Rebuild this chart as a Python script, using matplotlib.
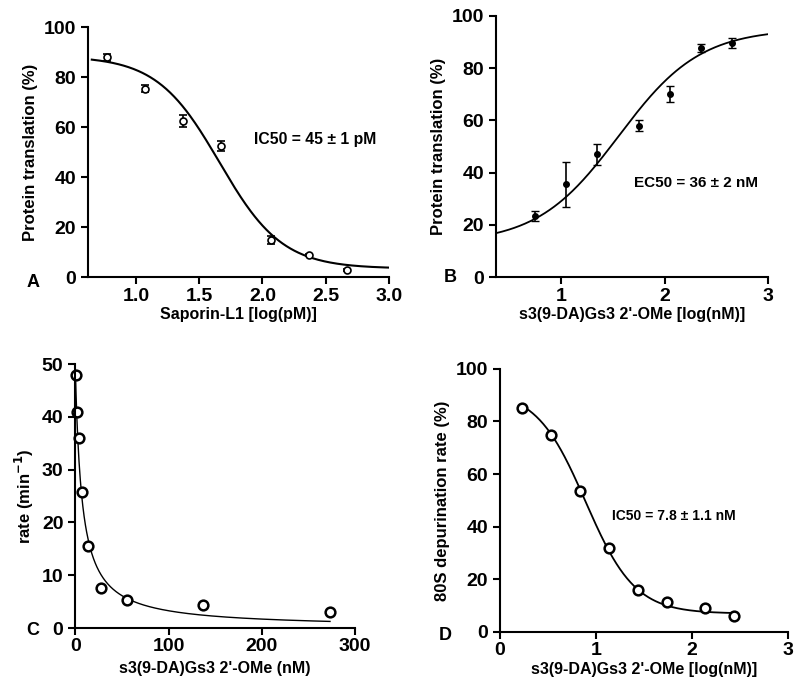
import matplotlib.pyplot as plt
import numpy as np

plt.rcParams['font.family'] = ['Liberation Sans', 'DejaVu Sans']
plt.rcParams['font.weight'] = 'bold'

# panel A: Saporin-L1 translation inhibition
a_x = [0.77, 1.07, 1.37, 1.67, 2.07, 2.37, 2.67]
a_y = [88.0, 75.5, 62.5, 52.5, 15.0, 9.0, 3.0]
a_err = [1.5, 1.5, 2.5, 2.0, 1.5, 0.5, 0.5]
a_fit = dict(top=88.5, bottom=3.5, logc=1.66, hill=1.75)

# panel B: s3(9-DA)Gs3 2'-OMe rescue
b_x = [0.75, 1.05, 1.35, 1.75, 2.05, 2.35, 2.65]
b_y = [23.5, 35.5, 47.0, 58.0, 70.0, 87.5, 89.5]
b_err = [2.0, 8.5, 4.0, 2.0, 3.0, 1.5, 2.0]
b_fit = dict(top=95.0, bottom=13.0, logc=1.556, hill=1.1)

# panel C: rate vs concentration
c_x = [0.7, 2.1, 4.3, 7.5, 14.0, 28.0, 55.0, 137.0, 273.0]
c_y = [48.0, 41.0, 35.9, 25.8, 15.5, 7.5, 5.4, 4.4, 3.0]
c_fit = dict(top=50.0, k=7.0)

# panel D: 80S depurination
d_x = [0.23, 0.53, 0.835, 1.136, 1.435, 1.738, 2.14, 2.44]
d_y = [85.3, 74.7, 53.7, 32.1, 15.9, 11.3, 9.2, 6.1]
d_fit = dict(top=92.0, bottom=7.0, logc=0.892, hill=1.69)

TICK = 14
LABEL = 11.5


def logistic(x, top, bottom, logc, hill):
    return bottom + (top - bottom) / (1 + 10 ** ((x - logc) * hill))


def style(ax):
    for s in ['top', 'right']:
        ax.spines[s].set_visible(False)
    for s in ['left', 'bottom']:
        ax.spines[s].set_linewidth(1.5)
    ax.tick_params(width=1.5, length=5, labelsize=TICK)
    ax.tick_params(axis='x', pad=2.5)
    for lab in ax.get_xticklabels() + ax.get_yticklabels():
        lab.set_fontweight('bold')


fig = plt.figure(figsize=(8, 6.83), dpi=100)

# A
ax = fig.add_axes([0.11, 0.594, 0.376, 0.366])
xs = np.linspace(0.65, 3.0, 300)
ax.plot(xs, logistic(xs, **a_fit), color='black', lw=1.5)
ax.errorbar(a_x, a_y, yerr=a_err, fmt='o', ms=5, mfc='white', mec='black',
            mew=1.2, ecolor='black', elinewidth=1.2, capsize=3)
ax.set_xlim(0.62, 3.0)
ax.set_ylim(0, 100)
ax.set_xticks([1.0, 1.5, 2.0, 2.5, 3.0])
ax.set_xticklabels(['1.0', '1.5', '2.0', '2.5', '3.0'])
ax.set_yticks([0, 20, 40, 60, 80, 100])
ax.set_xlabel('Saporin-L1 [log(pM)]', fontsize=LABEL, fontweight='bold', labelpad=2)
ax.set_ylabel('Protein translation (%)', fontsize=LABEL + 0.5, fontweight='bold')
ax.text(1.93, 55, 'IC50 = 45 ± 1 pM', fontsize=11.3, fontweight='bold', va='center')
style(ax)
fig.text(0.033, 0.587, 'A', fontsize=13, fontweight='bold', va='center')

# B
ax = fig.add_axes([0.62, 0.594, 0.34, 0.383])
xs = np.linspace(0.37, 3.0, 300)
ax.plot(xs, logistic(xs, b_fit['top'], b_fit['bottom'], b_fit['logc'], -b_fit['hill']),
        color='black', lw=1.3)
ax.errorbar(b_x, b_y, yerr=b_err, fmt='o', ms=4, mfc='black', mec='black',
            ecolor='black', elinewidth=1.2, capsize=3)
ax.set_xlim(0.37, 3.0)
ax.set_ylim(0, 100)
ax.set_xticks([1, 2, 3])
ax.set_yticks([0, 20, 40, 60, 80, 100])
ax.set_xlabel("s3(9-DA)Gs3 2'-OMe [log(nM)]", fontsize=LABEL, fontweight='bold', labelpad=2)
ax.set_ylabel('Protein translation (%)', fontsize=LABEL + 0.5, fontweight='bold')
ax.text(1.7, 36, 'EC50 = 36 ± 2 nM', fontsize=11, fontweight='bold', va='center')
style(ax)
fig.text(0.555, 0.594, 'B', fontsize=13, fontweight='bold', va='center')

# C
ax = fig.add_axes([0.094, 0.0805, 0.35, 0.3865])
xs = np.linspace(0, 273, 600)
ax.plot(xs, c_fit['top'] / (1 + xs / c_fit['k']), color='black', lw=1.0)
ax.plot(c_x, c_y, 'o', ms=7, mfc='white', mec='black', mew=1.8, clip_on=False)
ax.set_xlim(0, 300)
ax.set_ylim(0, 50)
ax.set_xticks([0, 100, 200, 300])
ax.set_yticks([0, 10, 20, 30, 40, 50])
ax.set_xlabel("s3(9-DA)Gs3 2'-OMe (nM)", fontsize=LABEL, fontweight='bold')
ax.set_ylabel('rate (min$^{\\mathbf{-1}}$)', fontsize=LABEL + 0.5, fontweight='bold')
style(ax)
fig.text(0.033, 0.077, 'C', fontsize=13, fontweight='bold', va='center')

# D
ax = fig.add_axes([0.625, 0.0747, 0.36, 0.3853])
xs = np.linspace(0.23, 2.44, 300)
ax.plot(xs, logistic(xs, **d_fit), color='black', lw=1.3)
ax.plot(d_x, d_y, 'o', ms=7, mfc='white', mec='black', mew=1.8)
ax.set_xlim(0, 3)
ax.set_ylim(0, 100)
ax.set_xticks([0, 1, 2, 3])
ax.set_yticks([0, 20, 40, 60, 80, 100])
ax.set_xlabel("s3(9-DA)Gs3 2'-OMe [log(nM)]", fontsize=LABEL, fontweight='bold', labelpad=2)
ax.set_ylabel('80S depurination rate (%)', fontsize=LABEL + 0.5, fontweight='bold')
ax.text(1.17, 44, 'IC50 = 7.8 ± 1.1 nM', fontsize=10, fontweight='bold', va='center')
style(ax)
fig.text(0.548, 0.07, 'D', fontsize=13, fontweight='bold', va='center')

fig.savefig('out.png', dpi=100)
